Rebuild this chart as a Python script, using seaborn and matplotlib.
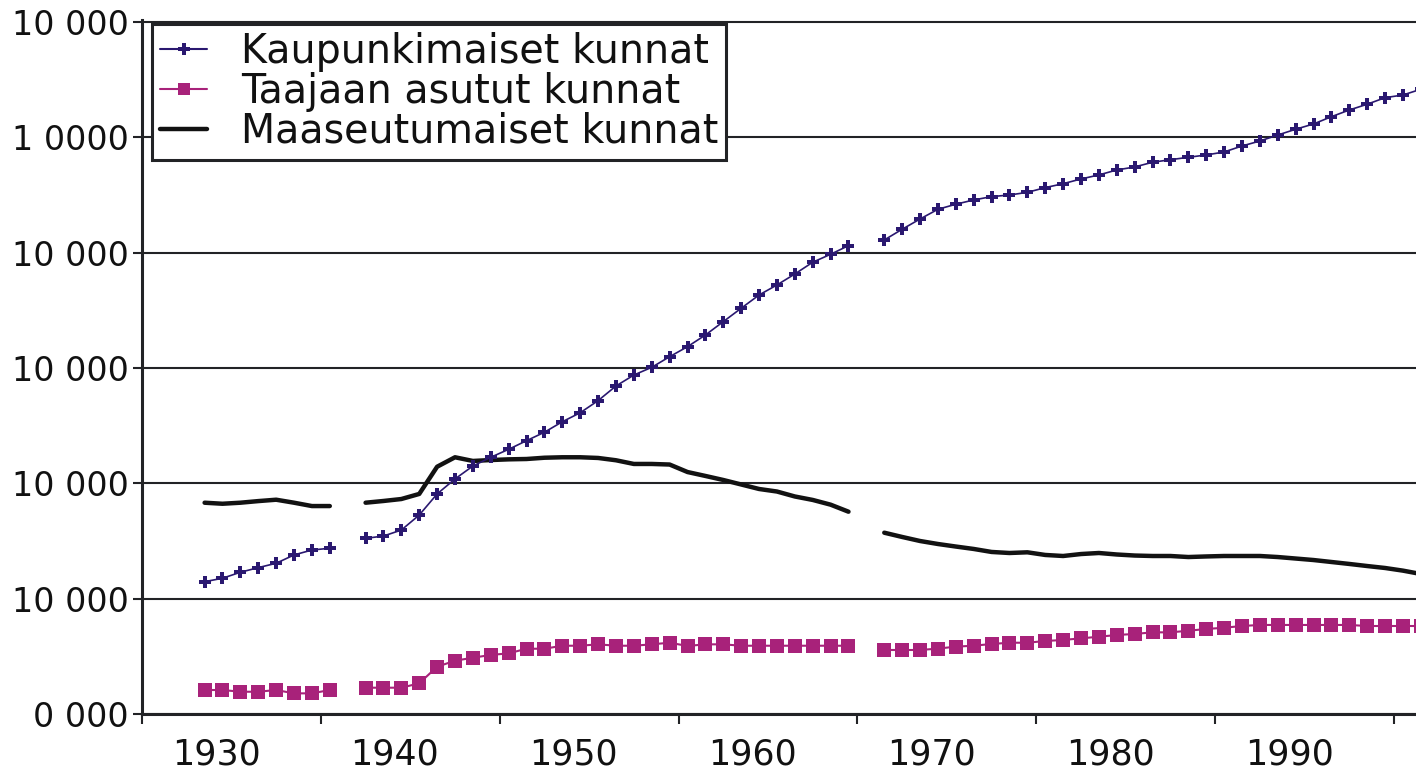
import matplotlib
matplotlib.use("Agg")
import matplotlib.pyplot as plt
import pandas as pd
import seaborn as sns
from matplotlib.lines import Line2D

# ---------------- data ----------------
years = ([1929, 1930, 1931, 1932, 1933, 1934, 1935, 1936]
         + list(range(1938, 1966))
         + list(range(1967, 1998)))

kaupunki = [114.7, 117.7, 122.9, 126.9, 130.7, 137.9, 142.2, 143.7,
            152.3, 154.3, 159.5, 172.5, 190.8, 203.8, 215.0, 222.6, 229.5, 237.0,
            244.3, 253.4, 261.2, 271.7, 284.4, 293.9, 300.6, 309.8, 318.5, 328.6,
            340.2, 351.8, 363.3, 372.0, 381.5, 391.7, 398.6, 406.1,
            411.0, 420.3, 429.2, 437.6, 442.0, 445.7, 448.6, 450.0, 452.3, 456.4,
            459.8, 463.9, 467.4, 471.7, 474.3, 478.4, 480.6, 482.7, 484.7, 487.3,
            492.5, 496.8, 502.0, 507.0, 511.6, 517.9, 523.7, 528.7, 534.4, 536.7,
            541.7]

taajaan = [20.8, 20.8, 19.3, 19.3, 20.8, 17.9, 17.9, 20.8,
           22.8, 22.8, 22.8, 26.6, 41.0, 46.2, 48.8, 51.2, 52.6, 56.6,
           56.6, 59.2, 59.2, 60.4, 59.2, 59.2, 60.4, 61.8, 59.0, 60.4,
           60.4, 59.2, 59.2, 59.2, 59.2, 59.2, 59.2, 59.2,
           55.5, 55.5, 55.5, 56.7, 58.4, 59.2, 60.7, 61.8, 61.8, 63.3,
           64.2, 65.6, 67.0, 68.5, 69.4, 70.8, 70.8, 72.2, 73.7, 74.8,
           76.3, 77.2, 77.2, 77.2, 77.2, 77.2, 77.2, 76.3, 76.3, 76.3,
           76.3]

maaseutu = [183.2, 182.3, 183.2, 184.6, 185.8, 183.2, 180.3, 180.3,
            183.2, 184.7, 186.4, 190.8, 214.4, 222.6, 219.4, 220.2, 220.8, 221.1,
            222.2, 222.6, 222.6, 222.0, 220.0, 216.8, 216.8, 216.3, 209.8, 206.4,
            202.9, 199.0, 195.1, 192.9, 188.6, 185.6, 181.5, 175.4,
            157.2, 153.5, 150.0, 147.4, 145.2, 143.1, 140.5, 139.6, 140.2, 137.9,
            137.0, 138.7, 139.6, 138.3, 137.4, 137.0, 137.0, 136.1, 136.6, 137.0,
            137.0, 137.0, 136.1, 134.8, 133.5, 131.8, 130.1, 128.3, 126.6, 124.3,
            121.4]

series_names = ["Kaupunkimaiset kunnat", "Taajaan asutut kunnat", "Maaseutumaiset kunnat"]
decade_labels = ["1930", "1940", "1950", "1960", "1970", "1980", "1990"]
y_ticks = [0, 100, 200, 300, 400, 500, 600]
y_tick_labels = ["0 000", "10 000", "10 000", "10 000", "10 000", "1 0000", "10 000"]

# ---------------- styling ----------------
BLUE = "#2a1870"
MAGENTA = "#a8227a"
BLACK = "#121212"
GRID = "#222326"

sns.set_theme(style="white")
plt.rcParams["font.family"] = ["DejaVu Sans"]

df = pd.DataFrame({"year": years, "k": kaupunki, "t": taajaan, "m": maaseutu})
df["seg"] = (df["year"] > 1937).astype(int) + (df["year"] > 1966).astype(int)

W, H = 1416, 769
fig = plt.figure(figsize=(W / 100, H / 100), dpi=100)
px_per_unit = 692 / 600.0
ax = fig.add_axes([142 / W, 55 / H, 1274 / W, 694 / H])

sns.lineplot(data=df, x="year", y="t", units="seg", estimator=None, ax=ax,
             color=MAGENTA, lw=1.5, marker="s", ms=9.5, mew=0, legend=False, zorder=3)
sns.lineplot(data=df, x="year", y="m", units="seg", estimator=None, ax=ax,
             color=BLACK, lw=3.2, legend=False, zorder=3)
sns.lineplot(data=df, x="year", y="k", units="seg", estimator=None, ax=ax,
             color=BLUE, lw=1.2, marker="P", ms=8, mew=0, legend=False, zorder=4)

ax.set_xlabel("")
ax.set_ylabel("")

x0 = 1925.5
ax.set_xlim(x0, x0 + 1274 / 17.886)
ax.set_ylim(0, 600 + 2 / px_per_unit)

# y axis
ax.set_yticks(y_ticks)
ax.set_yticklabels(y_tick_labels)
ax.yaxis.grid(True, color=GRID, lw=1.5)
ax.xaxis.grid(False)
ax.set_axisbelow(True)
ax.tick_params(axis="y", which="major", direction="out", length=6.5, width=1.5,
               color=GRID, pad=3, labelsize=24, labelcolor="#111111", left=True)

# x axis: tick marks at decade boundaries, labels between them
boundaries = [x0 + 10 * i for i in range(8)]
ax.set_xticks(boundaries)
ax.set_xticklabels([""] * len(boundaries))
label_pos = [b + 4.14 for b in boundaries[:len(decade_labels)]]
ax.set_xticks(label_pos, minor=True)
ax.set_xticklabels(decade_labels, minor=True)
ax.tick_params(axis="x", which="major", direction="out", length=7, width=1.5,
               color=GRID, bottom=True)
ax.tick_params(axis="x", which="minor", length=0, pad=17, labelsize=25,
               labelcolor="#111111", bottom=True)

for s in ["top", "right"]:
    ax.spines[s].set_visible(False)
for s in ["left", "bottom"]:
    ax.spines[s].set_color(GRID)
    ax.spines[s].set_linewidth(2.2)

# legend
handles = [
    Line2D([], [], color=BLUE, lw=1.5, marker="P", ms=8, mew=0),
    Line2D([], [], color=MAGENTA, lw=1.5, marker="s", ms=9, mew=0),
    Line2D([], [], color=BLACK, lw=3.2),
]
leg = ax.legend(handles, series_names, loc="upper left",
                bbox_to_anchor=(152 / W, 1 - 24 / H), bbox_transform=fig.transFigure,
                borderaxespad=0, fontsize=28.5, frameon=True, fancybox=False,
                framealpha=1, edgecolor=GRID, handlelength=1.2, handletextpad=0.85,
                borderpad=0.2, labelspacing=0.0, numpoints=1)
leg.get_frame().set_linewidth(2.2)
leg.set_zorder(10)
for t in leg.get_texts():
    t.set_color("#111111")

fig.savefig("out.png", dpi=100, facecolor="white")
